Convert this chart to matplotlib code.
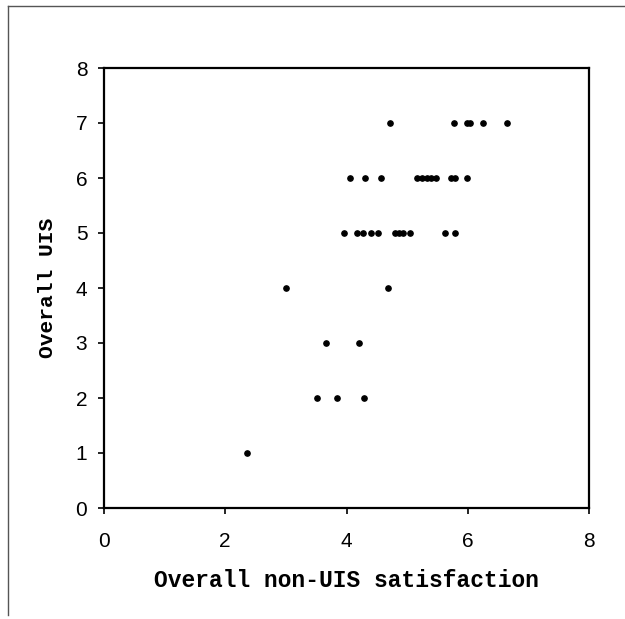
import matplotlib
matplotlib.use("Agg")
import matplotlib.pyplot as plt
from matplotlib.lines import Line2D

# Data
non_uis = [4.71, 5.78, 5.98, 6.03, 6.25, 6.65,
           4.06, 4.30, 4.57, 5.17, 5.25, 5.33, 5.40, 5.47, 5.73, 5.79, 5.98,
           3.96, 4.18, 4.28, 4.41, 4.52, 4.80, 4.86, 4.93, 5.05, 5.62, 5.79,
           3.01, 4.68,
           3.67, 4.20,
           3.51, 3.84, 4.29,
           2.36]
uis = [7, 7, 7, 7, 7, 7,
       6, 6, 6, 6, 6, 6, 6, 6, 6, 6, 6,
       5, 5, 5, 5, 5, 5, 5, 5, 5, 5, 5,
       4, 4,
       3, 3,
       2, 2, 2,
       1]
ticks = [0, 2, 4, 6, 8]
yticks = [0, 1, 2, 3, 4, 5, 6, 7, 8]

W, H = 625, 619
fig = plt.figure(figsize=(W / 100, H / 100), dpi=100)
ax = fig.add_axes([104 / W, 1 - 508 / H, (589 - 104) / W, (508 - 68) / H])

ax.plot(non_uis, uis, linestyle="none", marker="o", markersize=3.8, color="black")
ax.set_xlim(0, 8)
ax.set_ylim(0, 8)
ax.set_xticks(ticks)
ax.set_yticks(yticks)
for s in ax.spines.values():
    s.set_linewidth(1.6)
    s.set_color("black")
ax.tick_params(direction="out", length=4, width=1.2, labelsize=15)
ax.tick_params(axis="x", pad=13)
ax.tick_params(axis="y", pad=8)
for lab in ax.get_xticklabels() + ax.get_yticklabels():
    lab.set_fontfamily("Liberation Sans")

ax.set_xlabel("Overall non-UIS satisfaction", fontfamily="Liberation Mono",
              fontweight="bold", fontsize=16.5, labelpad=13)
ax.set_ylabel("Overall UIS", fontfamily="Liberation Mono",
              fontweight="bold", fontsize=15.3, labelpad=13.5)

# figure border lines (left and top)
fig.add_artist(Line2D([8 / W, 8 / W], [1 - 6 / H, 1 - 615 / H],
                      transform=fig.transFigure, color="#555555", lw=1))
fig.add_artist(Line2D([8 / W, 1.0], [1 - 6 / H, 1 - 6 / H],
                      transform=fig.transFigure, color="#555555", lw=1))

fig.savefig("out.png", dpi=100)
